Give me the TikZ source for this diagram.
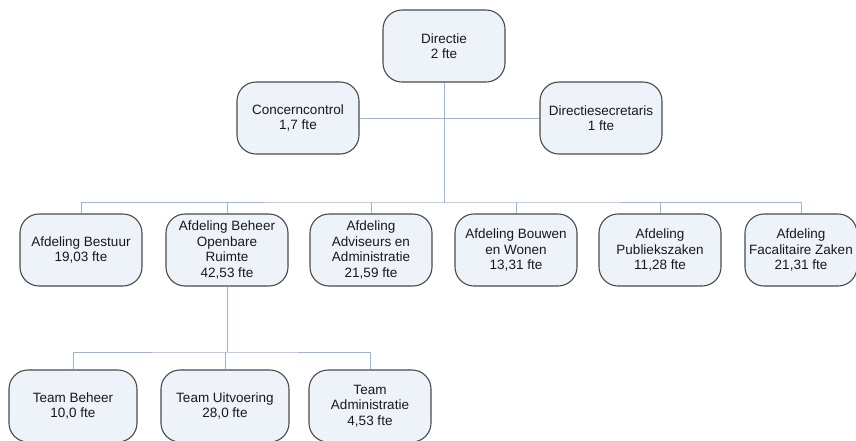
\documentclass[tikz,border=0pt]{standalone}
\usepackage{fontspec}
\setmainfont{Liberation Sans}
\definecolor{boxfill}{HTML}{EEF3FA}
\definecolor{boxline}{HTML}{4A4A4A}
\definecolor{connc}{HTML}{9BB4DF}
\begin{document}
\begin{tikzpicture}[x=1pt,y=-1pt,
  box/.style={draw=boxline, fill=boxfill, rounded corners=19pt, minimum width=122pt,
    minimum height=72pt, align=center, font=\fontsize{13.5}{15.5}\selectfont,
    text=black!90, line width=1.1pt, inner sep=1pt},
  teambox/.style={box, minimum width=128pt},
  conn/.style={draw=connc, line width=0.9pt}]
\useasboundingbox (0,0) rectangle (856,440);
% nodes
\node[box] (dir) at (444,46) {Directie\\2 fte};
\node[box] (cc) at (298,118) {Concerncontrol\\1,7 fte};
\node[box] (ds) at (601,118) {Directiesecretaris\\1 fte};
\node[box] (a1) at (81,250) {Afdeling Bestuur\\19,03 fte};
\node[box] (a2) at (227,250) {Afdeling Beheer\\Openbare\\Ruimte\\42,53 fte};
\node[box] (a3) at (371,250) {Afdeling\\Adviseurs en\\Administratie\\21,59 fte};
\node[box] (a4) at (516,250) {Afdeling Bouwen\\en Wonen\\13,31 fte};
\node[box] (a5) at (660,250) {Afdeling\\Publiekszaken\\11,28 fte};
\node[box, minimum width=112pt] (a6) at (801,250) {Afdeling\\Facalitaire Zaken\\21,31 fte};
\node[teambox] (t1) at (73,406) {Team Beheer\\10,0 fte};
\node[teambox] (t2) at (225,406) {Team Uitvoering\\28,0 fte};
\node[box] (t3) at (370,406) {Team\\Administratie\\4,53 fte};
% connectors
\coordinate (bus1) at (444,202);
\coordinate (bus2) at (227,352);
\draw[conn] (dir.south) -- (bus1);
\draw[conn] (cc.east) -- (ds.west);
\draw[conn] (a1.north) |- (bus1) -| (a6.north);
\draw[conn] (a2.north) -- (a2.north |- bus1);
\draw[conn] (a3.north) -- (a3.north |- bus1);
\draw[conn] (a4.north) -- (a4.north |- bus1);
\draw[conn] (a5.north) -- (a5.north |- bus1);
\draw[conn] (a2.south) -- (bus2);
\draw[conn] (t1.north) |- (bus2) -| (t3.north);
\draw[conn] (t2.north) -- (t2.north |- bus2);
\end{tikzpicture}
\end{document}
